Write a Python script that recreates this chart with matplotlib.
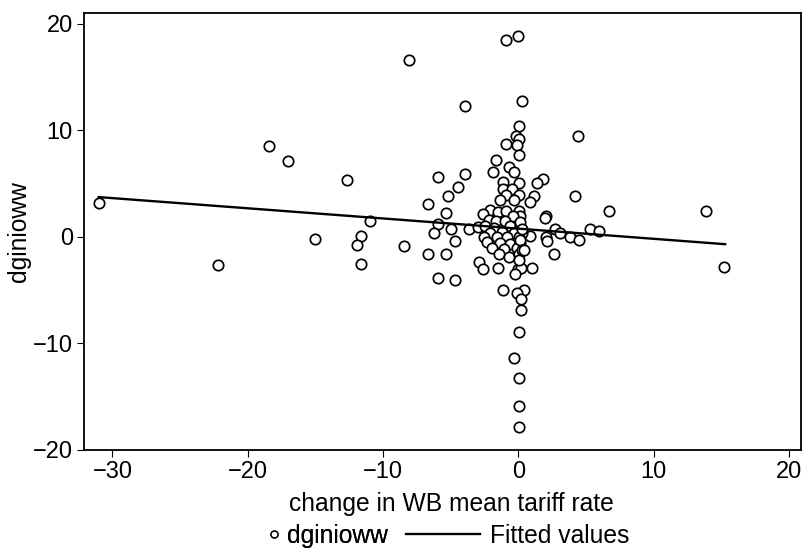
import matplotlib
matplotlib.use("Agg")
import matplotlib.pyplot as plt
from matplotlib.lines import Line2D

# scatter: change in WB mean tariff rate vs dginioww
tariff_change = [
    -8.1, -0.89, -0.02, -3.91, 0.27, 0.07, 4.41, -0.15, 0.07, -0.89,
    -0.12, 0.07, -1.67, -1.87, -0.71, -0.3, -5.96, -3.91, 1.82, 1.35,
    -4.48, -1.16, 0.07, -1.16, -5.17, 4.21, -6.65, -5.34, -5.93, -6.23,
    -4.97, -4.65, -8.47, -6.7, -5.34, -3.67, -3.0, -2.93, -2.58, -1.53,
    -5.96, -4.65, -1.16, 0.0, 0.2, 1.03, -0.25, 2.61, 2.02, 1.95,
    2.68, 3.05, 2.02, 2.12, 3.84, 4.5, 5.3, 5.96, 0.89, 1.13,
    0.89, -0.47, 0.07, -0.91, -1.38, -0.35, -2.07, -1.53, -2.61, -0.89,
    0.02, 0.15, -0.42, -2.19, -1.62, -1.01, -2.44, -1.77, -0.59, 0.15,
    -2.07, -1.2, -0.35, 0.27, -2.56, -1.57, -0.83, 0.02, -2.31, -1.33,
    -0.59, 0.1, -1.94, -1.09, -0.1, -1.45, -0.72, 0.02, 0.39, -0.1,
    0.2, 0.22, 0.02, -0.3, 0.02, 0.02, 0.02, -31.02, -18.44, -16.99,
    -12.65, -10.95, -11.62, -11.92, -15.02, -22.2, -11.65, 6.7, 13.88, 15.24,
    0.1, 0.1, 0.05, 0.3, 0.3, 0.39,
]
dginioww = [
    16.55, 18.5, 18.8, 12.3, 12.74, 10.36, 9.48, 9.42, 9.17, 8.73,
    8.57, 7.67, 7.2, 6.1, 6.54, 6.07, 5.57, 5.92, 5.45, 5.04,
    4.63, 5.13, 5.04, 4.48, 3.79, 3.79, 3.1, 2.22, 1.22, 0.4,
    0.75, -0.35, -0.82, -1.6, -1.57, 0.78, 0.88, -2.38, -3.0, -2.94,
    -3.82, -4.04, -4.98, -3.0, -2.88, -2.88, -3.47, -1.57, 2.0, 1.72,
    0.75, 0.38, 0.03, -0.35, 0.03, -0.28, 0.72, 0.56, 0.09, 3.79,
    3.3, 4.48, 3.94, 3.94, 3.41, 3.41, 2.54, 2.32, 2.16, 2.38,
    2.38, 1.91, 1.91, 1.6, 1.44, 1.53, 0.97, 0.81, 1.03, 0.97,
    0.34, 0.5, 0.4, 0.34, -0.03, -0.03, -0.03, -0.03, -0.53, -0.6,
    -0.66, -0.6, -1.06, -1.16, -1.06, -1.6, -1.85, -1.6, -4.98, -5.29,
    -5.85, -6.85, -8.92, -11.39, -13.27, -15.87, -17.84, 3.22, 8.48, 7.1,
    5.29, 1.47, 0.09, -0.75, -0.19, -2.66, -2.57, 2.47, 2.47, -2.79,
    1.4, -0.3, -2.2, -1.2, 0.7, -1.22,
]

# fitted values line (endpoints at min / max of x)
fit_x = [-31.02, 15.29]
fit_y = [3.73, -0.69]

x_ticks = [-30, -20, -10, 0, 10, 20]
y_ticks = [-20, -10, 0, 10, 20]

plt.rcParams["font.family"] = ["Liberation Sans", "DejaVu Sans"]

fig = plt.figure(figsize=(8.05, 5.48), dpi=100)
ax = fig.add_axes([84 / 805, 1 - 450 / 548, 717 / 805, 437 / 548])

ax.scatter(tariff_change, dginioww, s=56, facecolors="white",
           edgecolors="black", linewidths=1.25, zorder=2)
ax.plot(fit_x, fit_y, color="black", lw=1.7, zorder=3)

ax.set_xlim(-32.1, 20.9)
ax.set_ylim(-20.0, 21.0)
ax.set_xticks(x_ticks)
ax.set_yticks(y_ticks)
ax.set_xticklabels([str(t).replace("-", "\u2212") for t in x_ticks])
ax.set_yticklabels([str(t).replace("-", "\u2212") for t in y_ticks])
ax.tick_params(direction="out", length=5, width=0.8, labelsize=17, pad=3)

for sp in ax.spines.values():
    sp.set_linewidth(1.3)

ax.set_xlabel("change in WB mean tariff rate", fontsize=17.7)
ax.xaxis.set_label_coords(0.513, -0.097)
ax.set_ylabel("dginioww", fontsize=17.7)
ax.yaxis.set_label_coords(-0.074, 0.5)

# legend below, split so the marker and line get their own handle lengths
h1 = Line2D([], [], ls="none", marker="o", ms=5, mfc="white",
            mec="black", mew=1.0)
h2 = Line2D([], [], color="black", lw=1.7)
leg1 = fig.legend([h1], ["dginioww"], loc="center right",
                  bbox_to_anchor=(388 / 805, 1 - 536 / 548), frameon=False,
                  fontsize=17.7, handlelength=0.5, handletextpad=0.3,
                  borderpad=0, borderaxespad=0)
fig.legend([h2], ["Fitted values"], loc="center left",
           bbox_to_anchor=(406 / 805, 1 - 536 / 548), frameon=False,
           fontsize=17.7, handlelength=3.0, handletextpad=0.4,
           borderpad=0, borderaxespad=0)
fig.add_artist(leg1)

fig.savefig("out.png", dpi=100)
